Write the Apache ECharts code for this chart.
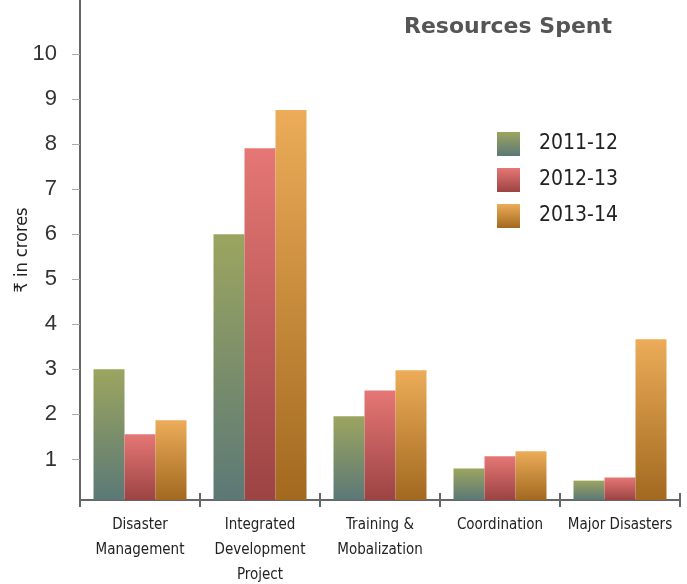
<!DOCTYPE html>
<html><head><meta charset="utf-8">
<script src="https://cdn.jsdelivr.net/npm/echarts@6/dist/echarts.min.js"></script>
<style>html,body{margin:0;padding:0;background:#fff}#c{width:687px;height:584px}</style>
</head><body><div id="c"></div>
<script>
const categories = ["Disaster\nManagement", "Integrated\nDevelopment\nProject", "Training &\nMobalization", "Coordination", "Major Disasters"];
const seriesNames = ["2011-12", "2012-13", "2013-14"];
const values2011 = [3.0, 6.0, 1.96, 0.8, 0.53];
const values2012 = [1.56, 7.91, 2.53, 1.07, 0.6];
const values2013 = [1.87, 8.76, 2.98, 1.18, 3.67];
const yTicks = [1, 2, 3, 4, 5, 6, 7, 8, 9, 10];

const grads = [["#9ca55f", "#5b7876"], ["#e57775", "#9c4343"], ["#ecac59", "#a2691f"]];
const condensed = "'DejaVu Sans Condensed', 'Liberation Sans Narrow', sans-serif";
function grad(c) {
  return new echarts.graphic.LinearGradient(0, 0, 0, 1, [{offset: 0, color: c[0]}, {offset: 1, color: c[1]}]);
}
const dataSets = [values2011, values2012, values2013];
const chart = echarts.init(document.getElementById('c'));
chart.setOption({
  animation: false,
  backgroundColor: '#fff',
  title: {
    text: 'Resources Spent', left: 399, top: 11,
    textStyle: {fontFamily: "'DejaVu Sans', sans-serif", fontWeight: 'bold', fontSize: 22, color: '#555'}
  },
  legend: {
    orient: 'vertical', left: 492, top: 127, itemWidth: 23, itemHeight: 24, itemGap: 12,
    icon: 'rect',
    textStyle: {fontFamily: condensed, fontSize: 21, color: '#222', padding: [0, 0, 0, 14]},
    data: seriesNames
  },
  grid: {left: 80, right: 7, top: 0, bottom: 84, outerBoundsMode: 'none', containLabel: false},
  xAxis: [{
    type: 'category', data: categories,
    axisLine: {lineStyle: {color: '#666', width: 2}},
    axisTick: {show: true, length: 7, lineStyle: {color: '#666', width: 2}},
    axisLabel: {interval: 0, fontFamily: condensed, fontSize: 15, color: '#222', lineHeight: 25, margin: 13}
  }, {
    type: 'category', data: categories, position: 'bottom',
    axisLine: {show: false},
    axisTick: {show: true, inside: true, length: 7, lineStyle: {color: '#666', width: 2}},
    axisLabel: {show: false}
  }],
  yAxis: {
    type: 'value', min: 0.1, max: 11.2,
    name: '₹ in crores', nameLocation: 'middle', nameRotate: 90, nameGap: 49, nameMoveOverlap: false,
    nameTextStyle: {fontFamily: condensed, fontSize: 18, color: '#222'},
    axisLine: {show: true, lineStyle: {color: '#666', width: 2}},
    axisTick: {show: true, length: 8, lineStyle: {color: '#aaa', width: 1}, customValues: yTicks},
    axisLabel: {fontFamily: "'Liberation Sans', Arial, sans-serif", fontSize: 22, color: '#333', margin: 23, customValues: yTicks},
    splitLine: {show: false}
  },
  series: seriesNames.map((n, i) => ({
    name: n, type: 'bar', data: dataSets[i], barWidth: 31, barGap: '0%',
    itemStyle: {color: grad(grads[i])}
  }))
});
</script></body></html>
